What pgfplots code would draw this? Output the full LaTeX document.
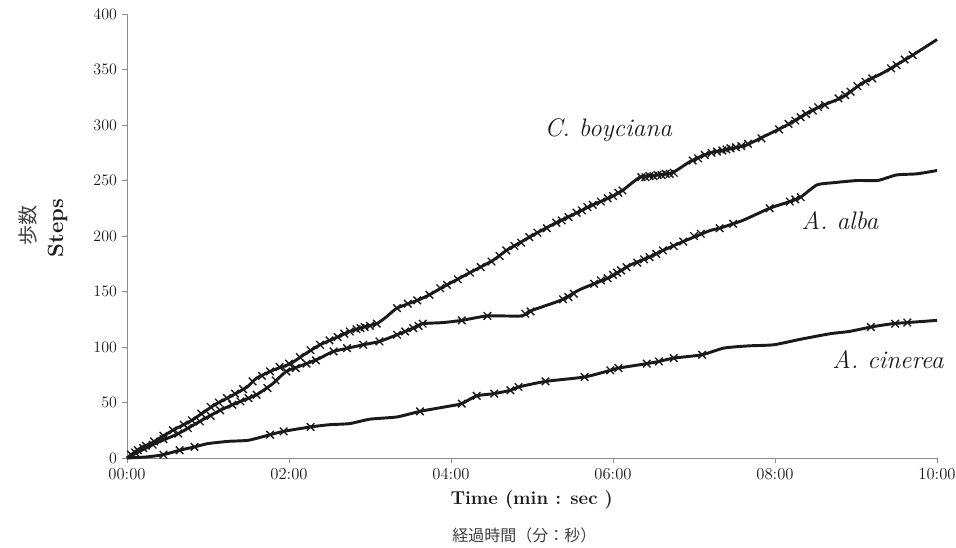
\documentclass[border=0pt]{standalone}
\usepackage{pgfplots}
\pgfplotsset{compat=1.18}
\usepackage{fontspec}
\newfontfamily\cjk{Noto Sans CJK JP}
\definecolor{ink}{HTML}{1A1A1A}
\definecolor{axgray}{HTML}{8C8C8C}
\begin{document}
\begin{tikzpicture}[x=1pt,y=1pt]
\path[use as bounding box] (-95.25,-66.75) rectangle (621.75,343.5);
\begin{axis}[
  at={(0,0)}, anchor=south west,
  scale only axis, width=607.5pt, height=333pt,
  xmin=0, xmax=600, ymin=0, ymax=400,
  axis lines=left,
  axis line style={-, draw=axgray, line width=0.7pt},
  tick style={draw=axgray, line width=0.7pt},
  major tick length=4pt,
  tick align=outside,
  xtick={0,120,240,360,480,600},
  xticklabels={00:00,02:00,04:00,06:00,08:00,10:00},
  ytick={0,50,100,150,200,250,300,350,400},
  tick label style={font=\fontsize{12.5}{14}\selectfont, text=ink},
  clip=false,
]
% C. boyciana
\addplot[ink, line width=2.2pt, smooth, tension=0.35, line join=round] coordinates {
(0,0) (10,9) (19,14) (34,25) (48,34) (65,48) (76,55) (89,64) (96,72) (108,79)
(121,85) (131,93) (143,102) (156,109) (165,114) (175,118) (185,121) (192,127)
(200,135) (215,142) (224,147) (234,154) (254,167) (271,178) (281,187) (291,194)
(304,203) (318,212) (330,219) (345,228) (358,235) (367,241) (380,253) (393,255)
(404,257) (417,267) (432,275) (449,279) (459,282) (469,288) (489,300) (504,311)
(516,318) (530,325) (545,338) (560,347) (582,363) (600,377)
};
\addplot[only marks, mark=x, mark size=4pt, mark options={ink, line width=1pt}] coordinates {
(3,3) (8,7) (14,11) (20,15) (27,20) (34,25) (42,30) (48,34) (55,40) (62,46) (68,50)
(74,54) (80,58) (86,62) (93,69) (100,74) (106,78) (113,82) (120,85) (128,91)
(136,97) (143,102) (150,106) (156,109) (161,112) (165,114) (170,116) (173,117)
(176,118) (180,119) (185,121) (200,135) (208,139) (215,142) (224,147) (232,153)
(237,156) (245,161) (254,167) (262,172) (270,177) (276,182) (281,187) (287,191)
(292,194) (298,199) (304,203) (311,207) (318,212) (322,214) (327,217) (333,221)
(337,223) (341,226) (345,228) (351,231) (356,234) (360,236) (364,239) (367,241)
(381,253) (384,253) (387,254) (390,254) (393,255) (396,255) (399,256) (402,256)
(405,257) (419,268) (423,270) (428,273) (433,275) (437,276) (441,277) (444,278)
(447,279) (451,280) (455,281) (460,283) (470,288) (483,296) (490,301) (495,304)
(499,307) (503,310) (508,313) (512,316) (517,318) (527,324) (532,327) (536,330)
(541,335) (547,339) (552,342) (566,351) (570,354) (576,359) (582,363)
};
% A. alba
\addplot[ink, line width=2.2pt, smooth, tension=0.35, line join=round] coordinates {
(0,0) (19,12) (38,22) (54,33) (69,43) (84,51) (96,57) (108,67) (118,78) (133,85)
(143,90) (153,96) (175,102) (187,105) (200,111) (212,117) (219,121) (234,122)
(248,124) (267,128) (292,128) (300,133) (321,142) (336,152) (358,163) (373,174)
(387,181) (397,187) (412,195) (432,205) (439,207) (456,214) (476,225) (491,231)
(499,235) (511,246) (523,248) (541,250) (556,250) (570,255) (585,256) (600,259)
};
\addplot[only marks, mark=x, mark size=4pt, mark options={ink, line width=1pt}] coordinates {
(6,5) (12,9) (19,12) (27,17) (38,22) (45,27) (54,33) (62,38) (69,43) (78,48)
(84,51) (90,54) (96,57) (104,63) (110,70) (118,78) (125,81) (133,85) (140,88)
(153,96) (163,99) (175,102) (187,105) (200,111) (206,114) (212,117) (216,119)
(219,121) (248,124) (267,128) (295,130) (299,132) (323,143) (327,145) (331,148)
(346,157) (351,160) (356,162) (360,165) (363,167) (366,169) (370,172) (378,176)
(383,179) (387,181) (392,184) (397,187) (405,191) (412,195) (420,200) (425,202)
(439,207) (449,211) (476,225) (491,231) (495,233) (499,235)
};
% A. cinerea
\addplot[ink, line width=2.2pt, smooth, tension=0.35, line join=round] coordinates {
(0,0) (15,1) (27,3) (39,7) (50,10) (60,13) (75,15) (90,16) (106,21) (116,24)
(136,28) (150,30) (165,31) (180,35) (200,37) (217,42) (240,47) (248,49) (259,56)
(272,58) (284,61) (290,64) (310,69) (339,73) (358,79) (364,81) (385,85) (394,87)
(405,90) (426,93) (442,99) (460,101) (479,102) (499,107) (521,112) (535,114)
(551,118) (567,121) (578,122) (600,124)
};
\addplot[only marks, mark=x, mark size=4pt, mark options={ink, line width=1pt}] coordinates {
(27,3) (39,7) (50,10) (106,21) (116,24) (136,28) (217,42) (248,49) (259,56)
(272,58) (284,61) (290,64) (310,69) (339,73) (358,79) (364,81) (385,85) (394,87)
(405,90) (426,93) (551,118) (569,121) (578,122)
};
\end{axis}
\node[rotate=90, font=\cjk\fontsize{15}{17}\selectfont, text=black!75] at (-74.25,174.75) {歩数};
\node[rotate=90, font=\bfseries\fontsize{16.5}{18}\selectfont, text=ink] at (-52,172.5) {Steps};
\node[font=\bfseries\fontsize{14}{16}\selectfont, text=ink] at (303.5,-31.5) {Time (min : sec )};
\node[font=\cjk\fontsize{12}{14}\selectfont, text=black!75] at (298,-57.75) {経過時間（分：秒）};
\node[font=\itshape\fontsize{19}{21}\selectfont, text=ink] at (361,246) {C. boyciana};
\node[font=\itshape\fontsize{19}{21}\selectfont, text=ink] at (534.75,177.75) {A. alba};
\node[font=\itshape\fontsize{19}{21}\selectfont, text=ink] at (570.75,73.5) {A. cinerea};
\end{tikzpicture}
\end{document}
